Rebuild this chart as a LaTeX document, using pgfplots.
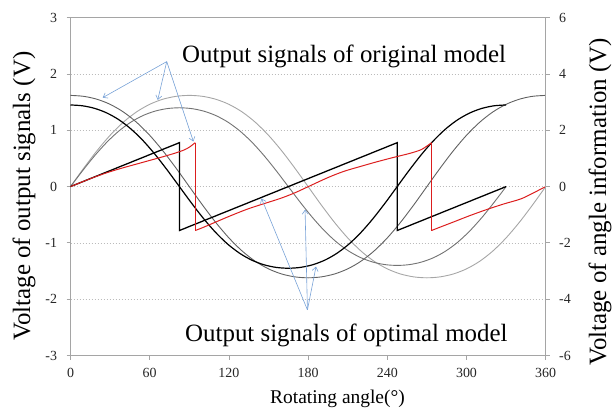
\documentclass[border=0pt]{standalone}
\usepackage{fontspec}
\setmainfont{Liberation Serif}
\usepackage{pgfplots}
\pgfplotsset{compat=1.18}
\usetikzlibrary{arrows.meta}
\definecolor{arrowblue}{RGB}{120,162,215}
\definecolor{sigred}{RGB}{220,30,30}
\definecolor{axgray}{RGB}{165,165,165}
\begin{document}
\begin{tikzpicture}
\path[use as bounding box] (0bp,0bp) rectangle (613bp,408bp);
\begin{axis}[
  at={(70.5bp,52.5bp)}, anchor=south west,
  scale only axis, width=475.2bp, height=337.8bp,
  xmin=0, xmax=360, ymin=-3, ymax=3,
  xtick={0,60,120,180,240,300,360},
  ytick={-3,-2,-1,0,1,2,3},
  yticklabels={-3,-2,-1,0,1,2,3},
  xtick pos=left, ytick pos=left,
  ymajorgrids,
  grid style={axgray!75, dash pattern=on 1.5bp off 1.5bp, line width=0.5bp},
  axis line style={axgray, line width=0.8bp},
  tick style={axgray, line width=0.8bp},
  tick align=outside, major tick length=4bp,
  /pgf/number format/assume math mode=true,
  ticklabel style={font=\fontsize{14}{16}\selectfont, text=black!85},
  yticklabel style={xshift=-6bp},
  xticklabel style={yshift=-5bp},
  clip=false,
]
% C: original model, light gray sine (360 deg period)
\addplot[black!35, line width=0.9bp, smooth] coordinates {
(0,0)(10,0.3268)(20,0.6356)(30,0.9113)(40,1.1432)(50,1.3264)(60,1.4614)(70,1.5520)(80,1.6034)(90,1.62)
(100,1.6034)(110,1.5520)(120,1.4614)(130,1.3264)(140,1.1432)(150,0.9113)(160,0.6356)(170,0.3268)(180,0)
(190,-0.3268)(200,-0.6356)(210,-0.9113)(220,-1.1432)(230,-1.3264)(240,-1.4614)(250,-1.5520)(260,-1.6034)(270,-1.62)
(280,-1.6034)(290,-1.5520)(300,-1.4614)(310,-1.3264)(320,-1.1432)(330,-0.9113)(340,-0.6356)(350,-0.3268)(360,0)};
% B: original model, gray cosine (360 deg period)
\addplot[black!62, line width=0.9bp, smooth] coordinates {
(0,1.62)(10,1.6034)(20,1.5520)(30,1.4614)(40,1.3264)(50,1.1432)(60,0.9113)(70,0.6356)(80,0.3268)(90,0)
(100,-0.3268)(110,-0.6356)(120,-0.9113)(130,-1.1432)(140,-1.3264)(150,-1.4614)(160,-1.5520)(170,-1.6034)(180,-1.62)
(190,-1.6034)(200,-1.5520)(210,-1.4614)(220,-1.3264)(230,-1.1432)(240,-0.9113)(250,-0.6356)(260,-0.3268)(270,0)
(280,0.3268)(290,0.6356)(300,0.9113)(310,1.1432)(320,1.3264)(330,1.4614)(340,1.5520)(350,1.6034)(360,1.62)};
% D: optimal model, medium gray sine (330 deg period)
\addplot[black!55, line width=0.9bp, smooth] coordinates {
(0,0)(9.167,0.2824)(18.333,0.5493)(27.5,0.7875)(36.667,0.9879)(45.833,1.1463)(55,1.2630)(64.167,1.3412)(73.333,1.3857)(82.5,1.40)
(91.667,1.3857)(100.833,1.3412)(110,1.2630)(119.167,1.1463)(128.333,0.9879)(137.5,0.7875)(146.667,0.5493)(155.833,0.2824)(165,0)
(174.167,-0.2824)(183.333,-0.5493)(192.5,-0.7875)(201.667,-0.9879)(210.833,-1.1463)(220,-1.2630)(229.167,-1.3412)(238.333,-1.3857)(247.5,-1.40)
(256.667,-1.3857)(265.833,-1.3412)(275,-1.2630)(284.167,-1.1463)(293.333,-0.9879)(302.5,-0.7875)(311.667,-0.5493)(320.833,-0.2824)(330,0)};
% A: optimal model, black cosine (330 deg period)
\addplot[black, line width=1.2bp, smooth] coordinates {
(0,1.45)(9.167,1.4352)(18.333,1.3891)(27.5,1.3081)(36.667,1.1872)(45.833,1.0232)(55,0.8156)(64.167,0.5689)(73.333,0.2925)(82.5,0)
(91.667,-0.2925)(100.833,-0.5689)(110,-0.8156)(119.167,-1.0232)(128.333,-1.1872)(137.5,-1.3081)(146.667,-1.3891)(155.833,-1.4352)(165,-1.45)
(174.167,-1.4352)(183.333,-1.3891)(192.5,-1.3081)(201.667,-1.1872)(210.833,-1.0232)(220,-0.8156)(229.167,-0.5689)(238.333,-0.2925)(247.5,0)
(256.667,0.2925)(265.833,0.5689)(275,0.8156)(284.167,1.0232)(293.333,1.1872)(302.5,1.3081)(311.667,1.3891)(320.833,1.4352)(330,1.45)};
% optimal model angle information (black sawtooth)
\addplot[black, line width=1.3bp] coordinates {
(0,0)(82.5,0.78)(82.5,-0.78)(247.5,0.78)(247.5,-0.78)(330,0)};
% original model angle information (red), smooth pieces plus vertical drops
\addplot[sigred, line width=1bp, smooth] coordinates {
(0,0)(10,0.094)(20,0.185)(30,0.265)(40,0.335)(50,0.40)(60,0.465)(70,0.53)(80,0.60)(86,0.65)(90,0.70)(94.5,0.78)};
\addplot[sigred, line width=1bp] coordinates {(94.5,0.78)(94.5,-0.78)};
\addplot[sigred, line width=1bp, smooth] coordinates {
(94.5,-0.78)(100,-0.73)(108,-0.65)(120,-0.53)(134,-0.40)(147,-0.30)(159,-0.21)(170,-0.11)(182,0.02)(195,0.16)
(207,0.27)(220,0.36)(232,0.44)(245,0.52)(257,0.59)(266,0.66)(273.5,0.78)};
\addplot[sigred, line width=1bp] coordinates {(273.5,0.78)(273.5,-0.78)};
\addplot[sigred, line width=1bp, smooth] coordinates {
(273.5,-0.78)(280,-0.72)(290,-0.63)(302,-0.52)(315,-0.41)(328,-0.31)(341,-0.22)(350,-0.12)(360,0)};
% arrows
\begin{scope}[arrowblue, line width=0.6bp, -{Straight Barb[length=4bp,width=6bp]}]
\draw (axis cs:72.9,2.22) -- (axis cs:24.4,1.58);
\draw (axis cs:72.9,2.22) -- (axis cs:66.1,1.54);
\draw (axis cs:72.9,2.22) -- (axis cs:93.1,0.80);
\draw (axis cs:179.5,-2.19) -- (axis cs:144.7,-0.21);
\draw (axis cs:179.5,-2.19) -- (axis cs:177.7,-0.41);
\draw (axis cs:179.5,-2.19) -- (axis cs:186,-1.42);
\end{scope}
\end{axis}
\begin{axis}[
  at={(70.5bp,52.5bp)}, anchor=south west,
  scale only axis, width=475.2bp, height=337.8bp,
  xmin=0, xmax=360, ymin=-6, ymax=6,
  axis x line=none, axis y line*=right,
  ytick={-6,-4,-2,0,2,4,6},
  yticklabels={-6,-4,-2,0,2,4,6},
  axis line style={axgray, line width=0.8bp},
  tick style={axgray, line width=0.8bp},
  tick align=outside, major tick length=4bp,
  ticklabel style={font=\fontsize{14}{16}\selectfont, text=black!85},
  yticklabel style={xshift=6bp},
]
\addplot[draw=none] coordinates {(0,0)};
\end{axis}
\node[rotate=90, font=\fontsize{25}{30}\selectfont] at (24bp,212bp) {Voltage of output signals (V)};
\node[rotate=90, font=\fontsize{25}{30}\selectfont] at (600bp,206bp) {Voltage of angle information (V)};
\node[anchor=base, font=\fontsize{19.5}{24}\selectfont] at (337.5bp,5bp) {Rotating angle(°)};
\node[anchor=base west, inner sep=0pt, font=\fontsize{25}{30}\selectfont] at (182bp,345bp) {Output signals of original model};
\node[anchor=base west, inner sep=0pt, font=\fontsize{25}{30}\selectfont] at (185bp,66.3bp) {Output signals of optimal model};
\end{tikzpicture}
\end{document}
